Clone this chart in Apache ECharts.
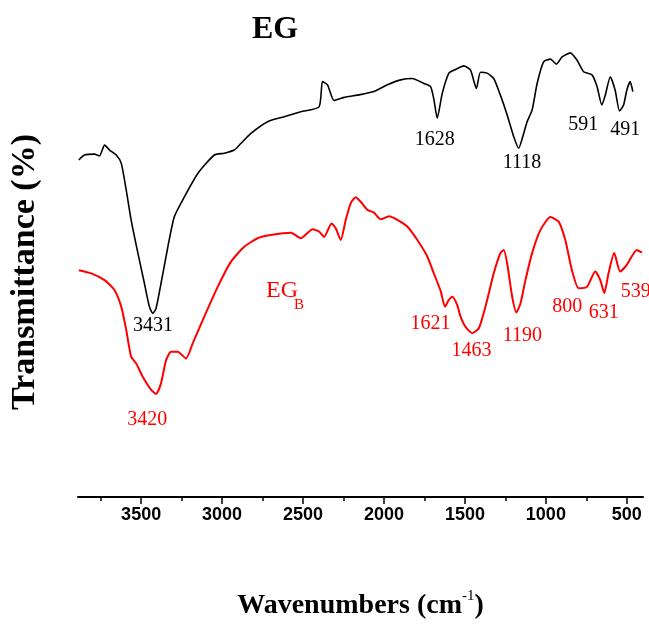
<!DOCTYPE html>
<html>
<head>
<meta charset="utf-8">
<script src="https://cdn.jsdelivr.net/npm/echarts@6/dist/echarts.min.js"></script>
<style>html,body{margin:0;padding:0;background:#fff;}#c{width:649px;height:627px;}</style>
</head>
<body>
<div id="c"></div>
<script>
// Wavenumber (cm-1) and transmittance (arbitrary %) for EG (black)
var egWavenumber = [3885, 3850, 3788, 3757, 3726, 3695, 3654, 3623, 3592, 3562, 3520, 3480, 3449, 3428, 3408, 3377, 3335, 3295, 3233, 3150, 3048, 2986, 2925, 2883, 2822, 2719, 2617, 2514, 2401, 2380, 2349, 2308, 2247, 2164, 2062, 1979, 1897, 1825, 1753, 1712, 1692, 1671, 1640, 1599, 1558, 1507, 1466, 1429, 1404, 1363, 1322, 1281, 1239, 1199, 1168, 1137, 1116, 1085, 1054, 1014, 972, 935, 900, 849, 808, 767, 715, 684, 654, 633, 602, 572, 545, 520, 500, 479, 463];
var egTransmittance = [74.9, 76.0, 76.2, 75.8, 78.2, 77.1, 76.0, 74.2, 68.2, 61.6, 54.2, 47.5, 42.3, 40.8, 41.9, 47.5, 55.6, 62.3, 66.7, 71.9, 76.0, 76.4, 77.1, 78.6, 80.8, 83.4, 84.5, 85.6, 86.7, 92.3, 91.6, 88.1, 88.8, 89.3, 90.1, 91.6, 92.7, 93.0, 91.9, 91.2, 88.4, 84.2, 89.7, 94.2, 95.0, 95.8, 94.9, 90.8, 94.4, 94.2, 93.0, 89.3, 84.9, 80.1, 77.5, 80.8, 83.4, 86.0, 91.9, 96.7, 97.3, 96.2, 97.8, 98.7, 97.1, 94.5, 93.8, 91.2, 87.1, 89.3, 93.4, 90.4, 85.8, 87.1, 90.4, 92.3, 90.1];

// EG_B (red)
var egbWavenumber = [3885, 3808, 3726, 3665, 3623, 3592, 3562, 3531, 3490, 3438, 3408, 3377, 3346, 3315, 3274, 3223, 3181, 3110, 3027, 2945, 2863, 2781, 2699, 2575, 2514, 2441, 2401, 2370, 2324, 2298, 2267, 2236, 2205, 2175, 2144, 2102, 2062, 2020, 1969, 1917, 1856, 1794, 1732, 1692, 1650, 1623, 1599, 1578, 1548, 1527, 1496, 1455, 1414, 1373, 1322, 1281, 1260, 1239, 1208, 1182, 1157, 1126, 1085, 1034, 972, 921, 880, 839, 798, 746, 695, 664, 639, 613, 578, 541, 500, 438, 407];
var egbTransmittance = [50.4, 49.7, 48.2, 46.0, 42.3, 37.1, 31.2, 29.7, 26.7, 23.8, 22.9, 25.3, 30.4, 32.3, 32.3, 30.8, 34.2, 40.1, 46.7, 52.3, 55.6, 57.5, 58.2, 58.7, 57.5, 59.5, 59.0, 57.8, 60.8, 59.7, 57.1, 61.6, 65.3, 66.6, 65.6, 63.8, 63.2, 61.7, 62.4, 61.6, 60.1, 57.1, 53.4, 49.7, 45.8, 42.3, 43.8, 44.5, 42.7, 40.1, 37.8, 36.4, 37.5, 42.3, 49.7, 54.2, 54.9, 51.9, 44.5, 41.0, 43.0, 48.2, 54.2, 59.3, 62.2, 61.2, 57.1, 50.4, 46.4, 46.7, 50.1, 48.2, 45.3, 49.7, 54.2, 50.1, 51.6, 54.9, 54.3];

// Peak annotations (text, anchor wavenumber, anchor transmittance)
var egPeakText = ['3431', '1628', '1118', '591', '491'];
var egPeakWn = [3426, 1687, 1148, 769, 510];
var egPeakT = [38.0, 79.3, 74.3, 82.7, 81.6];

var egbPeakText = ['3420', '1621', '1463', '1190', '800', '631', '539'];
var egbPeakWn = [3463, 1712, 1459, 1145, 868, 642, 445];
var egbPeakT = [17.1, 38.4, 32.4, 35.8, 42.2, 40.9, 45.6];

// Axis ticks
var tickLabels = [3500, 3000, 2500, 2000, 1500, 1000, 500];
var minorTicks = [3750, 3250, 2750, 2250, 1750, 1250, 750];

function zip(a, b) { return a.map(function (v, i) { return [v, b[i]]; }); }
function labelData(t, x, y) { return t.map(function (s, i) { return { name: s, value: [x[i], y[i]] }; }); }

var serif = '"Liberation Serif", "Times New Roman", serif';
var chart = echarts.init(document.getElementById('c'), null, { renderer: 'canvas' });
chart.setOption({
  animation: false,
  backgroundColor: '#fff',
  grid: { left: 77, right: 6, top: 47, bottom: 130 },
  xAxis: [{
    type: 'value', inverse: true, min: 400, max: 3890,
    axisLine: { show: true, lineStyle: { color: '#000', width: 2 } },
    axisTick: { show: true, customValues: tickLabels, length: 7, lineStyle: { color: '#000', width: 1.5 } },
    axisLabel: { show: true, customValues: tickLabels, margin: 9, color: '#000', fontFamily: '"Liberation Sans", Arial, sans-serif', fontWeight: 'bold', fontSize: 18, formatter: function (v) { return String(v); } },
    splitLine: { show: false },
    name: '{a|Wavenumbers (cm}{s|-1}{a|)}',
    nameLocation: 'middle', nameGap: 92,
    nameTextStyle: {
      rich: {
        a: { fontFamily: serif, fontWeight: 'bold', fontSize: 28, color: '#000', lineHeight: 34 },
        s: { fontFamily: serif, fontSize: 15, color: '#000', verticalAlign: 'top', lineHeight: 15 }
      }
    }
  }, {
    type: 'value', inverse: true, min: 400, max: 3890, position: 'bottom',
    axisLine: { show: false },
    axisTick: { show: true, customValues: minorTicks, length: 4, lineStyle: { color: '#000', width: 1.5 } },
    axisLabel: { show: false },
    splitLine: { show: false }
  }],
  yAxis: {
    type: 'value', min: 0, max: 100,
    axisLine: { show: false }, axisTick: { show: false }, axisLabel: { show: false }, splitLine: { show: false },
    name: 'Transmittance (%)', nameLocation: 'middle', nameGap: 36,
    nameTextStyle: { fontFamily: serif, fontWeight: 'bold', fontSize: 34, color: '#000' }
  },
  series: [{
    type: 'line', data: zip(egWavenumber, egTransmittance), showSymbol: false, symbol: 'none', smooth: 0.2,
    lineStyle: { color: '#000', width: 1.6 }, silent: true
  }, {
    type: 'line', data: zip(egbWavenumber, egbTransmittance), showSymbol: false, symbol: 'none', smooth: 0.2,
    lineStyle: { color: '#ff0000', width: 2 }, silent: true
  }, {
    type: 'scatter', data: labelData(egPeakText, egPeakWn, egPeakT), symbolSize: 0, silent: true,
    itemStyle: { opacity: 1 },
    label: { show: true, position: 'inside', formatter: '{b}', fontFamily: serif, fontSize: 20, color: '#000', opacity: 1 }
  }, {
    type: 'scatter', data: labelData(egbPeakText, egbPeakWn, egbPeakT), symbolSize: 0, silent: true,
    itemStyle: { opacity: 1 },
    label: { show: true, position: 'inside', formatter: '{b}', fontFamily: serif, fontSize: 20, color: '#ff0000', opacity: 1 }
  }],
  graphic: [
    { type: 'text', left: 252, top: 14, style: { text: 'EG', font: 'bold 32px ' + serif, fill: '#000' } },
    { type: 'text', left: 266, top: 279, style: { text: 'EG', font: '24px ' + serif, fill: '#ff0000' } },
    { type: 'text', left: 294, top: 298, style: { text: 'B', font: '15px ' + serif, fill: '#ff0000' } }
  ]
});
</script>
</body>
</html>
